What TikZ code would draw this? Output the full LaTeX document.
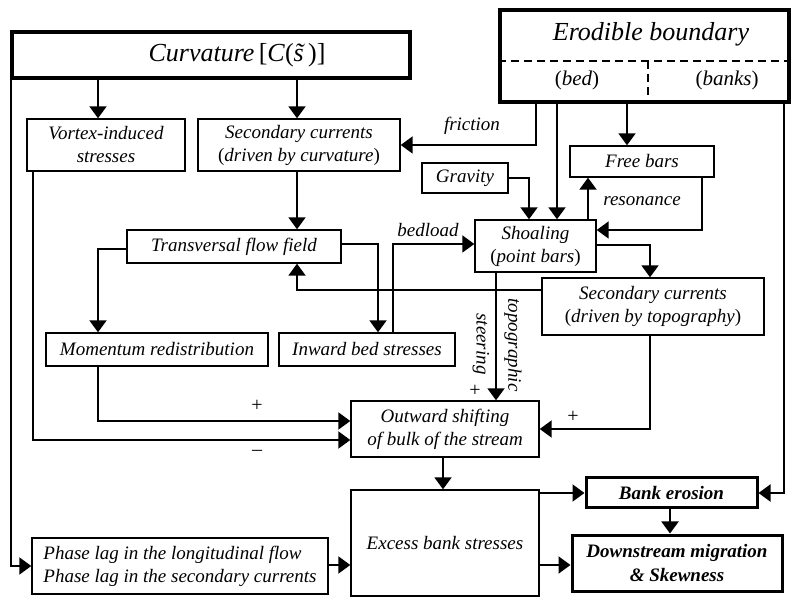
\documentclass[tikz,border=0pt]{standalone}
\usepackage{fontspec}
\setmainfont{Liberation Serif}
\usetikzlibrary{arrows.meta,positioning,calc}
\tikzset{
  >={Triangle[length=6pt,width=8.5pt]},
  every node/.append style={font=\fontsize{9.5}{11.5}\selectfont\itshape},
}
\tikzset{
  box/.style={draw, line width=0.7pt, align=center, inner sep=2pt},
  arrow/.style={->, line width=1pt},
}

\begin{document}
\begin{tikzpicture}[x=0.5pt, y=-0.5pt,
  headbox/.style={box, line width=2pt, font=\fontsize{13}{15}\selectfont\itshape},
  keybox/.style={box, line width=1.5pt, font=\fontsize{9.5}{12.5}\selectfont\bfseries\itshape},
  sign/.style={font=\fontsize{10}{11}\selectfont\upshape, inner sep=0pt},
  note/.style={inner sep=1pt}
]
\useasboundingbox (0,0) rectangle (791,597);

% Header boxes
\node[headbox, minimum width=199pt, minimum height=23pt] (curv) at (211,55)
  {\hspace*{26pt}Curvature\,\textup{[}C\textup{(}\~{s}\,\textup{)]}};
\node[headbox, line width=1.7pt, minimum width=144.5pt, minimum height=46pt] (erod) at (644.5,56) {};
\node[font=\fontsize{13}{15}\selectfont\itshape] (erodtxt) at (651,34) {Erodible boundary};
\node[font=\fontsize{10.5}{12}\selectfont\itshape] (bed) at (577,80) {\textup{(}bed\textup{)}};
\node[font=\fontsize{10.5}{12}\selectfont\itshape] (banks) at (727,80) {\textup{(}banks\textup{)}};
\draw[dash pattern=on 4pt off 2.5pt, line width=0.8pt] (erod.west |- 0,61) -- (erod.east |- 0,61);
\draw[dash pattern=on 4pt off 2.5pt, line width=0.8pt] (648,61) -- (erod.south -| 648,0);

% Process boxes
\node[box, minimum width=79pt, minimum height=26pt] (vortex) at (106,145) {Vortex-induced\\stresses};
\node[box, minimum width=101pt, minimum height=26pt] (seccurv) at (299,145) {Secondary currents\\\textup{(}driven by curvature\textup{)}};
\node[box, minimum width=43pt, minimum height=15pt] (gravity) at (465,178) {Gravity};
\node[box, minimum width=72pt, minimum height=15.5pt] (freebars) at (642,161.5) {Free bars};
\node[box, minimum width=60.5pt, minimum height=26pt] (shoal) at (535.5,246) {Shoaling\\\textup{(}point bars\textup{)}};
\node[box, minimum width=107pt, minimum height=16.5pt] (trans) at (234,246.5) {Transversal flow field};
\node[box, minimum width=111pt, minimum height=28.5pt] (sectopo) at (653,306.5) {Secondary currents\\\textup{(}driven by topography\textup{)}};
\node[box, minimum width=111pt, minimum height=16.5pt] (moment) at (157,349.5) {Momentum redistribution};
\node[box, minimum width=88pt, minimum height=16.5pt] (inward) at (367,349.5) {Inward bed stresses};
\node[box, minimum width=94pt, minimum height=28pt] (outward) at (445,429) {Outward shifting\\of bulk of the stream};
\node[box, minimum width=94pt, minimum height=53pt] (excess) at (445,543) {Excess bank stresses};
\node[box, align=left, minimum width=148pt, minimum height=28pt] (phase) at (180,566) {Phase lag in the longitudinal flow\\Phase lag in the secondary currents};

% Outcomes
\node[keybox, minimum width=85.5pt, minimum height=15pt] (bankero) at (671.5,493) {Bank erosion};
\node[keybox, minimum width=105pt, minimum height=28pt] (downstr) at (677,563) {Downstream migration\\\& Skewness};

% Connectors from the headers
\draw[arrow] (curv.south -| 98,0) -- (vortex.north -| 98,0);
\draw[arrow] (curv.south -| 297,0) -- (seccurv.north -| 297,0);
\draw[arrow] ([xshift=0.5pt]curv.south west) |- (phase.west);
\draw[arrow] (erod.south -| 536,0) |- (seccurv.east);
\draw[arrow] (erod.south -| 557,0) -- (shoal.north -| 557,0);
\draw[arrow] (erod.south -| 627,0) -- (freebars.north -| 627,0);
\draw[arrow] (erod.south -| 784,0) |- (bankero.east);

% Bar and flow loops
\draw[arrow] (gravity.east) -| (shoal.north -| 529,0);
\draw[arrow] (shoal.north -| 588,0) -- (freebars.south -| 588,0);
\draw[arrow] (freebars.south -| 702,0) |- (shoal.east |- 0,230);
\draw[arrow] (shoal.east |- 0,245) -| (sectopo.north -| 650,0);
\draw[arrow] (sectopo.west |- 0,290) -| (trans.south -| 297,0);
\draw[arrow] (seccurv.south -| 297,0) -- (trans.north -| 297,0);
\draw[arrow] (trans.west |- 0,249) -| (moment.north -| 98,0);
\draw[arrow] (trans.east |- 0,244) -| (inward.north -| 378,0);
\draw[arrow] (inward.north -| 393,0) |- (shoal.west |- 0,244);

% Into the outward shifting
\draw[arrow] (shoal.south -| 496,0) -- (outward.north -| 496,0);
\draw[arrow] (moment.south -| 98,0) |- (outward.west |- 0,421);
\draw[arrow] (vortex.south -| 33,0) |- (outward.west |- 0,440);
\draw[arrow] (sectopo.south -| 650,0) |- (outward.east |- 0,429);

% Towards the bank
\draw[arrow] (outward.south -| 443,0) -- (excess.north -| 443,0);
\draw[arrow] (excess.east |- bankero.west) -- (bankero.west);
\draw[arrow] (bankero.south -| 670,0) -- (downstr.north -| 670,0);
\draw[arrow] (excess.east |- 0,565) -- (downstr.west |- 0,565);
\draw[arrow] (phase.east |- 0,565) -- (excess.west |- 0,565);

% Connector labels
\node[note] (fric) at (472,126) {friction};
\node[note] (reso) at (642,201) {resonance};
\node[note] (bedl) at (428,230) {bedload};
\node[note, rotate=-90] (topo) at (513,345) {topographic};
\node[note, rotate=-90] (steer) at (481,344) {steering};
\node[sign] (plusa) at (257,406) {+};
\node[sign] (minus) at (257,453) {--};
\node[sign] (plusb) at (475,391) {+};
\node[sign] (plusc) at (573,417) {+};

\end{tikzpicture}
\end{document}
